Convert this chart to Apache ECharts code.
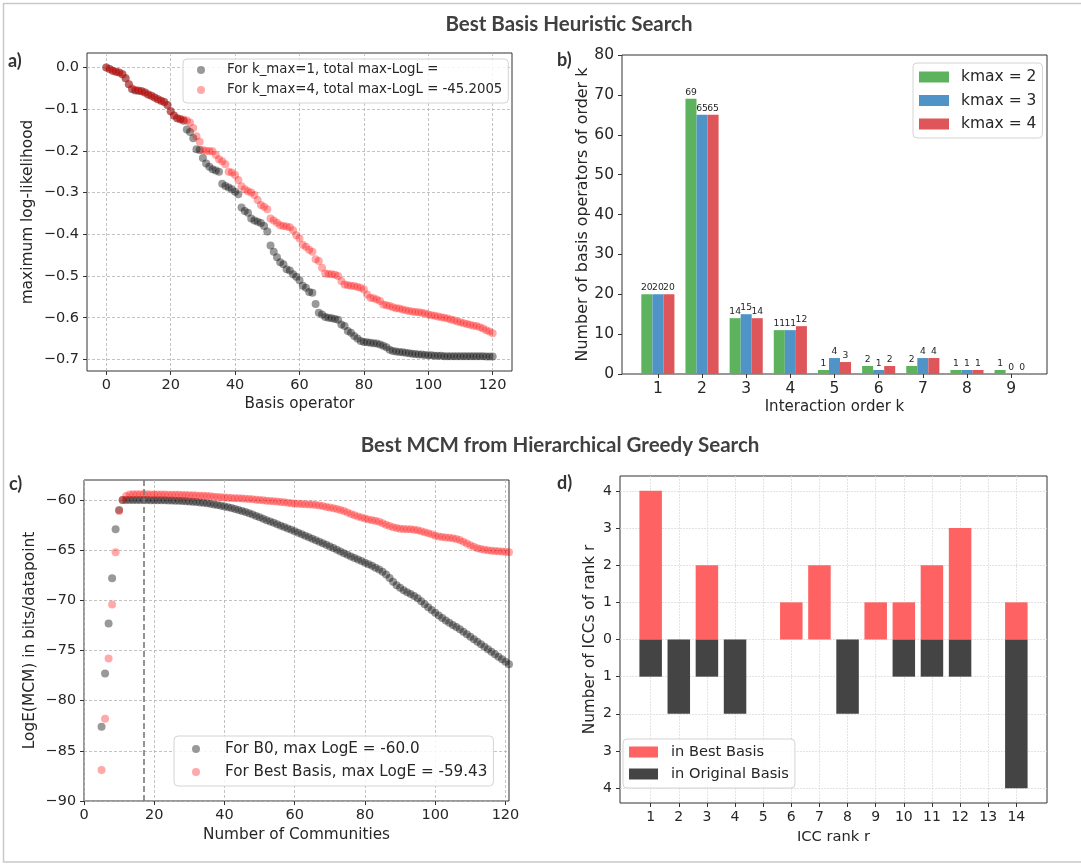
<!DOCTYPE html>
<html><head><meta charset="utf-8">
<script src="https://cdn.jsdelivr.net/npm/echarts@6/dist/echarts.min.js"></script>
<style>html,body{margin:0;padding:0;background:#fff}#c{width:1081px;height:865px}</style>
</head><body><div id="c"></div>
<script>
// ---------- Panel a: maximum log-likelihood per basis operator (index 0..120)
const A_KMAX1 = [
 0, -0.004, -0.008, -0.01, -0.012, -0.016, -0.026, -0.04, -0.052, -0.055,
 -0.056, -0.057, -0.06, -0.065, -0.068, -0.072, -0.076, -0.08, -0.083, -0.09,
 -0.105, -0.115, -0.122, -0.124, -0.128, -0.149, -0.155, -0.17, -0.196, -0.198,
 -0.217, -0.23, -0.238, -0.244, -0.247, -0.25, -0.279, -0.284, -0.288, -0.292,
 -0.298, -0.304, -0.336, -0.344, -0.348, -0.362, -0.367, -0.37, -0.373, -0.38,
 -0.393, -0.427, -0.442, -0.455, -0.467, -0.472, -0.484, -0.487, -0.496, -0.502,
 -0.51, -0.523, -0.528, -0.538, -0.54, -0.567, -0.588, -0.592, -0.598, -0.6,
 -0.601, -0.603, -0.605, -0.616, -0.62, -0.632, -0.636, -0.644, -0.65, -0.656,
 -0.658, -0.659, -0.66, -0.661, -0.662, -0.664, -0.667, -0.671, -0.677, -0.68,
 -0.681, -0.682, -0.683, -0.684, -0.685, -0.686, -0.687, -0.688, -0.688, -0.689,
 -0.69, -0.69, -0.691, -0.691, -0.691, -0.692, -0.692, -0.692, -0.692, -0.692,
 -0.692, -0.692, -0.692, -0.692, -0.692, -0.692, -0.692, -0.692, -0.693, -0.693,
 -0.693
];
const A_KMAX4 = [
 0, -0.004, -0.008, -0.01, -0.012, -0.016, -0.026, -0.04, -0.05, -0.054,
 -0.055, -0.057, -0.06, -0.065, -0.068, -0.072, -0.076, -0.08, -0.083, -0.09,
 -0.105, -0.115, -0.122, -0.124, -0.125, -0.127, -0.132, -0.145, -0.165, -0.178,
 -0.198, -0.2, -0.2, -0.201, -0.21, -0.22, -0.225, -0.232, -0.25, -0.252,
 -0.258, -0.27, -0.285, -0.292, -0.297, -0.3, -0.306, -0.318, -0.33, -0.334,
 -0.34, -0.362, -0.367, -0.372, -0.378, -0.38, -0.381, -0.383, -0.39, -0.402,
 -0.41, -0.425, -0.43, -0.437, -0.442, -0.46, -0.464, -0.48, -0.494, -0.495,
 -0.496, -0.497, -0.5, -0.512, -0.52, -0.522, -0.523, -0.524, -0.526, -0.528,
 -0.532, -0.544, -0.552, -0.553, -0.556, -0.56, -0.568, -0.57, -0.572, -0.575,
 -0.577, -0.578, -0.58, -0.582, -0.584, -0.585, -0.586, -0.587, -0.588, -0.59,
 -0.592, -0.594, -0.595, -0.597, -0.599, -0.6, -0.602, -0.604, -0.606, -0.609,
 -0.611, -0.613, -0.615, -0.617, -0.619, -0.62, -0.623, -0.626, -0.63, -0.633,
 -0.637
];
const A_X_TICKS = [0, 20, 40, 60, 80, 100, 120];
const A_Y_TICKS = [-0.7, -0.6, -0.5, -0.4, -0.3, -0.2, -0.1, 0];

// ---------- Panel b: number of basis operators of order k
const B_ORDERS = [1, 2, 3, 4, 5, 6, 7, 8, 9];
const B_KMAX2 = [20, 69, 14, 11, 1, 2, 2, 1, 1];
const B_KMAX3 = [20, 65, 15, 11, 4, 1, 4, 1, 0];
const B_KMAX4 = [20, 65, 14, 12, 3, 2, 4, 1, 0];
const B_Y_TICKS = [0, 10, 20, 30, 40, 50, 60, 70, 80];

// ---------- Panel c: LogE(MCM) vs number of communities (5..121)
const C_FIRST_N = 5;
const C_B0 = [
 -82.6, -77.3, -72.3, -67.8, -62.9, -61.0, -60.0, -60.0, -60.0, -60.0,
 -60.0, -60.0, -60.0, -60.0, -60.01, -60.01, -60.02, -60.02, -60.03, -60.04,
 -60.05, -60.06, -60.08, -60.1, -60.12, -60.14, -60.17, -60.2, -60.24, -60.28,
 -60.33, -60.38, -60.44, -60.5, -60.57, -60.64, -60.72, -60.8, -60.89, -60.98,
 -61.08, -61.19, -61.31, -61.44, -61.58, -61.72, -61.86, -62.0, -62.13, -62.27,
 -62.41, -62.55, -62.69, -62.83, -62.97, -63.11, -63.26, -63.4, -63.55, -63.7,
 -63.85, -64.0, -64.15, -64.3, -64.46, -64.62, -64.78, -64.95, -65.12, -65.29,
 -65.46, -65.62, -65.78, -65.93, -66.08, -66.24, -66.4, -66.56, -66.74, -66.93,
 -67.14, -67.42, -67.78, -68.15, -68.48, -68.75, -68.98, -69.18, -69.36, -69.56,
 -69.8, -70.08, -70.38, -70.68, -70.96, -71.24, -71.5, -71.75, -72.0, -72.23,
 -72.45, -72.66, -72.88, -73.12, -73.37, -73.62, -73.87, -74.12, -74.37, -74.62,
 -74.87, -75.12, -75.37, -75.62, -75.87, -76.12, -76.37
];
const C_BEST = [
 -86.9, -81.8, -75.8, -70.4, -65.2, -61.1, -60.0, -59.6, -59.45, -59.43,
 -59.43, -59.43, -59.43, -59.43, -59.44, -59.44, -59.44, -59.45, -59.45, -59.46,
 -59.46, -59.47, -59.48, -59.49, -59.5, -59.51, -59.52, -59.54, -59.56, -59.58,
 -59.6, -59.63, -59.66, -59.69, -59.72, -59.75, -59.77, -59.79, -59.81, -59.83,
 -59.85, -59.87, -59.9, -59.93, -59.96, -60.0, -60.03, -60.06, -60.09, -60.12,
 -60.15, -60.19, -60.23, -60.27, -60.31, -60.35, -60.37, -60.39, -60.41, -60.43,
 -60.45, -60.5, -60.55, -60.6, -60.68, -60.75, -60.82, -60.9, -61.0, -61.1,
 -61.25, -61.4, -61.52, -61.65, -61.75, -61.85, -61.93, -62.0, -62.07, -62.15,
 -62.3, -62.45, -62.58, -62.7, -62.78, -62.85, -62.88, -62.9, -62.92, -62.95,
 -63.02, -63.1, -63.2, -63.3, -63.42, -63.55, -63.62, -63.68, -63.72, -63.75,
 -63.8, -63.87, -63.98, -64.15, -64.32, -64.5, -64.65, -64.8, -64.88, -64.95,
 -65.0, -65.05, -65.08, -65.1, -65.13, -65.16, -65.2
];
const C_BEST_N = 17;
const C_X_TICKS = [0, 20, 40, 60, 80, 100, 120];
const C_Y_TICKS = [-90, -85, -80, -75, -70, -65, -60];

// ---------- Panel d: ICC ranks
const D_RANKS = [1, 2, 3, 4, 5, 6, 7, 8, 9, 10, 11, 12, 13, 14];
const D_BEST = [4, 0, 2, 0, 0, 1, 2, 0, 1, 1, 2, 3, 0, 1];
const D_ORIG = [1, 2, 1, 2, 0, 0, 0, 2, 0, 1, 1, 1, 0, 4];
const D_Y_TICKS = [-4, -3, -2, -1, 0, 1, 2, 3, 4];

// ================= rendering =================
const FONT = 'DejaVu Sans';
const TXT = '#262626';
const MINUS = '\u2212';
const fmt1 = v => (v < -1e-9 ? MINUS : '') + Math.abs(v).toFixed(1);
const fmt0 = v => (v < -1e-9 ? MINUS : '') + Math.abs(Math.round(v));
const absFmt = v => String(Math.abs(Math.round(v)));
const DASH = {color: '#b4b4b4', width: 0.8, type: [3, 2]};
const DGRID = {color: '#dcdcdc', width: 0.8, type: [2, 1]};

function vAxis(gridIndex, min, max, ticks, fmt, fs, split, name, nameGap, nameFs, isY) {
  return {
    type: 'value', gridIndex, min, max,
    axisLine: {show: false, onZero: false},
    axisTick: {show: true, length: 4, lineStyle: {color: '#333', width: 1}, customValues: ticks},
    axisLabel: {customValues: ticks, formatter: fmt, color: TXT, fontFamily: FONT, fontSize: fs, margin: isY ? 8 : 7},
    splitLine: split ? {show: true, lineStyle: split} : {show: false},
    name, nameLocation: 'middle', nameGap,
    nameTextStyle: {color: TXT, fontFamily: FONT, fontSize: nameFs}
  };
}

const gridBase = {show: true, borderColor: '#333', borderWidth: 1, containLabel: false};
const legendBox = {
  orient: 'vertical', selectedMode: false,
  borderColor: '#d4d4d4', borderWidth: 1, borderRadius: 4,
  backgroundColor: 'rgba(255,255,255,0.85)'
};
function legendText(fs, lh, gap) {
  return {
    formatter: n => '{s|}' + n,
    textStyle: {color: TXT, fontFamily: FONT, fontSize: fs, lineHeight: lh,
      rich: {s: {width: gap, fontSize: fs, lineHeight: lh}}}
  };
}

const BLK_A = 'rgba(0,0,0,0.5)';
const RED_A = 'rgba(255,0,0,0.42)';
const TITLE_FONT = 'bold 20.5px Lato, "Open Sans", sans-serif';
const TAG_FONT = 'bold 18px Lato, sans-serif';

const option = {
  animation: false,
  backgroundColor: '#fff',
  grid: [
    Object.assign({left: 87, top: 53, width: 425, height: 318}, gridBase),
    Object.assign({left: 622, top: 55, width: 425, height: 319}, gridBase),
    Object.assign({left: 84, top: 480, width: 425, height: 321}, gridBase),
    Object.assign({left: 620, top: 476, width: 427, height: 327}, gridBase)
  ],
  xAxis: [
    vAxis(0, -6, 126, A_X_TICKS, fmt0, 14.5, DASH, 'Basis operator', 26, 15.2, false),
    vAxis(1, 0.1875, 9.8125, B_ORDERS, fmt0, 15.5, null, 'Interaction order k', 26, 15, false),
    vAxis(2, 0, 121, C_X_TICKS, fmt0, 14.5, DASH, 'Number of Communities', 27, 15.3, false),
    vAxis(3, -0.09, 15.09, D_RANKS, fmt0, 14, DGRID, 'ICC rank r', 27, 14.7, false)
  ],
  yAxis: [
    vAxis(0, -0.72765, 0.03465, A_Y_TICKS, fmt1, 14.5, DASH, 'maximum log-likelihood', 52, 15.4, true),
    vAxis(1, 0, 80, B_Y_TICKS, fmt0, 15.5, null, 'Number of basis operators of order k', 30, 15.9, true),
    vAxis(2, -90, -58, C_Y_TICKS, fmt0, 14.3, DASH, 'LogE(MCM) in bits/datapoint', 47, 15.4, true),
    vAxis(3, -4.4, 4.4, D_Y_TICKS, absFmt, 14, DGRID, 'Number of ICCs of rank r', 22, 15.3, true)
  ],
  legend: [
    Object.assign({
      left: 183, top: 59, padding: [4, 6, 6, 14], itemGap: 6,
      itemWidth: 30, itemHeight: 8, icon: 'circle',
      data: ['For k_max=1, total max-LogL = ', 'For k_max=4, total max-LogL = -45.2005']
    }, legendBox, legendText(13.3, 14, 6)),
    Object.assign({
      left: 913, top: 63, padding: [5, 6, 5, 6], itemGap: 5.5,
      itemWidth: 30, itemHeight: 11, icon: 'rect',
      data: ['kmax = 2', 'kmax = 3', 'kmax = 4']
    }, legendBox, legendText(15.5, 18, 7)),
    Object.assign({
      left: 174, top: 736, padding: [5, 6, 6, 18], itemGap: 7,
      itemWidth: 30, itemHeight: 8, icon: 'circle',
      data: ['For B0, max LogE = -60.0', 'For Best Basis, max LogE = -59.43']
    }, legendBox, legendText(15.2, 16, 9)),
    Object.assign({
      left: 623, top: 739, padding: [5, 6, 6, 6], itemGap: 6,
      itemWidth: 29, itemHeight: 11, icon: 'rect',
      data: ['in Best Basis', 'in Original Basis']
    }, legendBox, legendText(14.6, 16, 8))
  ],
  graphic: [
    {type: 'rect', silent: true, shape: {x: 3.5, y: 3.5, width: 1100, height: 858.5},
     style: {fill: 'none', stroke: '#c9c9c9', lineWidth: 1.5}},
    {type: 'text', x: 569, y: 24, style: {text: 'Best Basis Heuristic Search', fill: '#404040',
     font: TITLE_FONT, textAlign: 'center', textVerticalAlign: 'middle'}},
    {type: 'text', x: 560, y: 445, style: {text: 'Best MCM from Hierarchical Greedy Search', fill: '#404040',
     font: TITLE_FONT, textAlign: 'center', textVerticalAlign: 'middle'}},
    {type: 'text', x: 8, y: 61, style: {text: 'a)', fill: '#333', font: TAG_FONT, textVerticalAlign: 'middle'}},
    {type: 'text', x: 557, y: 60, style: {text: 'b)', fill: '#333', font: TAG_FONT, textVerticalAlign: 'middle'}},
    {type: 'text', x: 9, y: 484, style: {text: 'c)', fill: '#333', font: TAG_FONT, textVerticalAlign: 'middle'}},
    {type: 'text', x: 557, y: 483, style: {text: 'd)', fill: '#333', font: TAG_FONT, textVerticalAlign: 'middle'}}
  ],
  series: []
};

// panel a
option.series.push({
  type: 'scatter', name: 'For k_max=1, total max-LogL = ', xAxisIndex: 0, yAxisIndex: 0,
  symbolSize: 8, itemStyle: {color: BLK_A}, data: A_KMAX1.map((v, i) => [i, v])
});
option.series.push({
  type: 'scatter', name: 'For k_max=4, total max-LogL = -45.2005', xAxisIndex: 0, yAxisIndex: 0,
  symbolSize: 8, itemStyle: {color: RED_A}, data: A_KMAX4.map((v, i) => [i, v])
});

// panel b
const bLabel = {show: true, position: 'top', distance: 2, color: TXT, fontFamily: FONT, fontSize: 9.2,
  formatter: p => String(p.value[1])};
[['kmax = 2', B_KMAX2, '#5db35d'], ['kmax = 3', B_KMAX3, '#5094c7'], ['kmax = 4', B_KMAX4, '#de5659']].forEach(([nm, arr, col]) => {
  option.series.push({
    type: 'bar', name: nm, xAxisIndex: 1, yAxisIndex: 1, barWidth: '25%', barGap: '0%',
    itemStyle: {color: col}, label: bLabel, data: B_ORDERS.map((k, i) => [k, arr[i]])
  });
});

// panel c
option.series.push({
  type: 'scatter', name: 'For B0, max LogE = -60.0', xAxisIndex: 2, yAxisIndex: 2,
  symbolSize: 8, itemStyle: {color: BLK_A}, data: C_B0.map((v, i) => [C_FIRST_N + i, v]),
  markLine: {silent: true, symbol: 'none', label: {show: false},
    lineStyle: {color: '#7a7a7a', width: 1.6, type: [6, 3]}, data: [{xAxis: C_BEST_N}]}
});
option.series.push({
  type: 'scatter', name: 'For Best Basis, max LogE = -59.43', xAxisIndex: 2, yAxisIndex: 2,
  symbolSize: 8, itemStyle: {color: RED_A}, data: C_BEST.map((v, i) => [C_FIRST_N + i, v])
});

// panel d (zero counts draw no bar)
option.series.push({
  type: 'bar', name: 'in Best Basis', xAxisIndex: 3, yAxisIndex: 3, barWidth: '80%', barGap: '-100%',
  itemStyle: {color: '#ff6262'}, data: D_RANKS.map((r, i) => [r, D_BEST[i] === 0 ? '-' : D_BEST[i]])
});
option.series.push({
  type: 'bar', name: 'in Original Basis', xAxisIndex: 3, yAxisIndex: 3, barWidth: '80%', barGap: '-100%',
  itemStyle: {color: '#444444'}, data: D_RANKS.map((r, i) => [r, D_ORIG[i] === 0 ? '-' : -D_ORIG[i]])
});

const chart = echarts.init(document.getElementById('c'), null, {renderer: 'canvas'});
chart.setOption(option);
</script>
</body></html>
